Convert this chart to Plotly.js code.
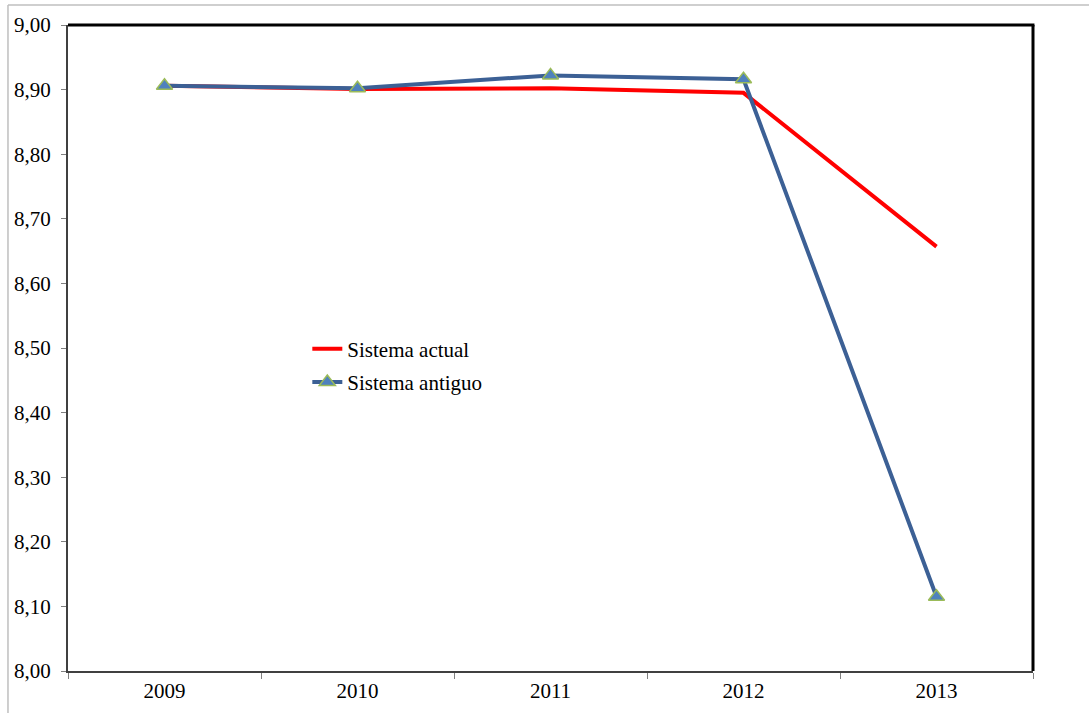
<!DOCTYPE html>
<html>
<head>
<meta charset="utf-8">
<script src="https://cdn.plot.ly/plotly-3.0.1.min.js"></script>
<style>
  html, body { margin: 0; padding: 0; background: #fff; }
  #chart { width: 1089px; height: 713px; }
</style>
</head>
<body>
<div id="chart"></div>
<script>
// Years on the category axis
const years = ['2009', '2010', '2011', '2012', '2013'];

// Values for each grading system
const sistemaActual = [8.906, 8.901, 8.902, 8.895, 8.657];
const sistemaAntiguo = [8.906, 8.902, 8.922, 8.916, 8.115];

// Y axis tick values
const yTicks = [8.0, 8.1, 8.2, 8.3, 8.4, 8.5, 8.6, 8.7, 8.8, 8.9, 9.0];

const serif = '"Liberation Serif", "Times New Roman", serif';

const traces = [
  {
    x: years,
    y: sistemaActual,
    name: 'Sistema actual',
    legendgroup: 'actual',
    type: 'scatter',
    mode: 'lines',
    line: { color: '#FF0000', width: 4 }
  },
  {
    x: years,
    y: sistemaAntiguo,
    name: 'Sistema antiguo',
    legendgroup: 'antiguo',
    type: 'scatter',
    mode: 'lines+markers',
    line: { color: '#3C6095', width: 4 },
    marker: {
      symbol: 'triangle-up',
      size: 14,
      color: '#4F81BD',
      line: { color: '#9BBB59', width: 1.5 }
    }
  }
];

const layout = {
  width: 1089,
  height: 713,
  margin: { l: 68, r: 56, t: 25, b: 42 },
  paper_bgcolor: '#ffffff',
  plot_bgcolor: '#ffffff',
  separators: ',.',
  font: { family: serif },
  showlegend: true,
  legend: {
    x: 0.248,
    y: 0.53,
    xanchor: 'left',
    yanchor: 'top',
    bgcolor: 'rgba(0,0,0,0)',
    font: { family: serif, size: 21, color: '#000' },
    itemwidth: 30,
    traceorder: 'grouped',
    tracegroupgap: 3
  },
  xaxis: {
    type: 'category',
    range: [-0.5, 4.5],
    tickson: 'boundaries',
    ticks: 'outside',
    ticklen: 6,
    tickcolor: '#808080',
    showline: true,
    linecolor: '#404040',
    linewidth: 2,
    showgrid: false,
    zeroline: false,
    tickfont: { family: serif, size: 21, color: '#000' },
    fixedrange: true
  },
  yaxis: {
    range: [8.0, 9.0],
    tickvals: yTicks,
    tickformat: '.2f',
    ticks: 'outside',
    ticklen: 5,
    tickcolor: '#808080',
    showline: true,
    linecolor: '#404040',
    linewidth: 2,
    showgrid: false,
    zeroline: false,
    ticklabelstandoff: 6,
    tickfont: { family: serif, size: 21, color: '#000' },
    fixedrange: true
  },
  shapes: [
    // heavy frame on top and right of plotting area
    { type: 'line', xref: 'paper', yref: 'paper', x0: 0, x1: 1.0015, y0: 1, y1: 1,
      line: { color: '#000', width: 3 } },
    { type: 'line', xref: 'paper', yref: 'paper', x0: 1, x1: 1, y0: 0, y1: 1,
      line: { color: '#000', width: 3 } },
    // thin outer chart border
    { type: 'line', xref: 'paper', yref: 'paper', x0: -0.0622, x1: -0.0622, y0: -0.07, y1: 1.031,
      line: { color: '#BFBFBF', width: 1.5 } },
    { type: 'line', xref: 'paper', yref: 'paper', x0: -0.0622, x1: 1.06, y0: 1.031, y1: 1.031,
      line: { color: '#BFBFBF', width: 1.5 } }
  ]
};

Plotly.newPlot('chart', traces, layout, { displayModeBar: false, staticPlot: true });
</script>
</body>
</html>
